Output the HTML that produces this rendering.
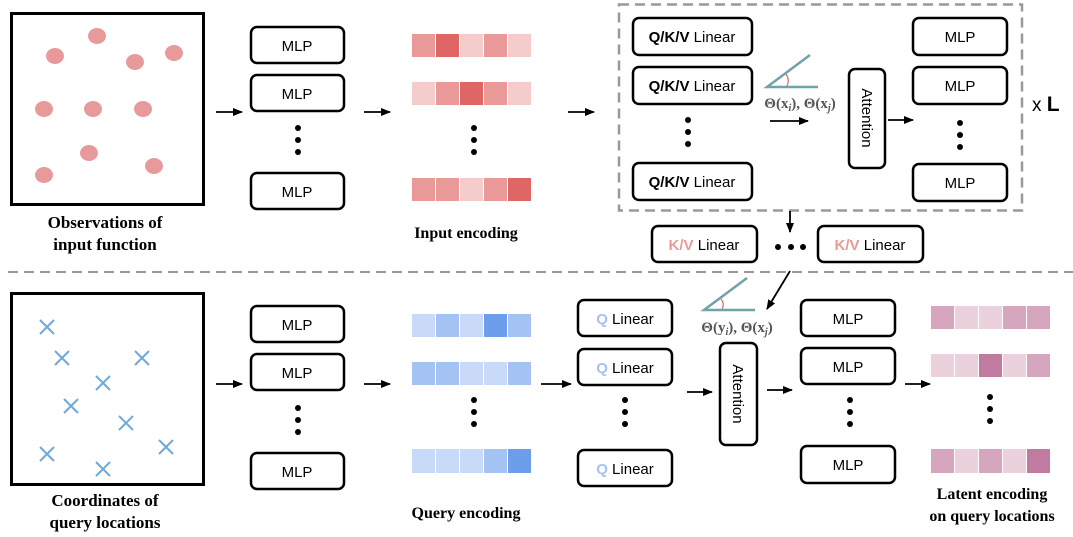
<!DOCTYPE html>
<html><head><meta charset="utf-8"><style>
html,body{margin:0;padding:0;background:#fff}
svg{display:block}
.b{fill:#fff;stroke:#000;stroke-width:2.5}
.t{font-family:"Liberation Sans",sans-serif;font-size:15px;fill:#000;text-anchor:middle}
.c{font-family:"Liberation Serif",serif;font-size:17px;font-weight:bold;fill:#000;text-anchor:middle}
.m{font-family:"Liberation Serif",serif;font-size:15px;font-weight:bold;fill:#555;text-anchor:middle}
.x{stroke:#6fa8dc;stroke-width:2}
.a{stroke:#000;stroke-width:1.8}
</style></head><body>
<svg width="1073" height="537" viewBox="0 0 1073 537">
<defs><marker id="ah" markerWidth="10" markerHeight="10" refX="9" refY="5" orient="auto" markerUnits="userSpaceOnUse"><path d="M0,1 L10,5 L0,9z" fill="#000"/></marker></defs>
<rect x="11.5" y="13.5" width="192" height="191" fill="#fff" stroke="#000" stroke-width="3"/>
<g fill="#e89a9a">
<ellipse cx="55" cy="56" rx="9" ry="8"/><ellipse cx="97" cy="36" rx="9" ry="8"/><ellipse cx="135" cy="62" rx="9" ry="8"/><ellipse cx="174" cy="53" rx="9" ry="8"/>
<ellipse cx="44" cy="109" rx="9" ry="8"/><ellipse cx="93" cy="109" rx="9" ry="8"/><ellipse cx="143" cy="109" rx="9" ry="8"/>
<ellipse cx="89" cy="153" rx="9" ry="8"/><ellipse cx="154" cy="166" rx="9" ry="8"/><ellipse cx="44" cy="175" rx="9" ry="8"/>
</g>
<text class="c" x="105" y="228">Observations of</text>
<text class="c" x="105" y="250">input function</text>
<rect x="11.5" y="293.5" width="192" height="191" fill="#fff" stroke="#000" stroke-width="3"/>
<g class="x">
<path d="M40,320 l14,14 m0,-14 l-14,14"/><path d="M55,351 l14,14 m0,-14 l-14,14"/><path d="M135,351 l14,14 m0,-14 l-14,14"/>
<path d="M96,376 l14,14 m0,-14 l-14,14"/><path d="M64,399 l14,14 m0,-14 l-14,14"/><path d="M119,416 l14,14 m0,-14 l-14,14"/>
<path d="M159,440 l14,14 m0,-14 l-14,14"/><path d="M40,447 l14,14 m0,-14 l-14,14"/><path d="M96,462 l14,14 m0,-14 l-14,14"/>
</g>
<text class="c" x="105" y="506">Coordinates of</text>
<text class="c" x="105" y="528">query locations</text>
<line class="a" x1="216" y1="112" x2="242" y2="112" marker-end="url(#ah)"/>
<line class="a" x1="216" y1="384" x2="242" y2="384" marker-end="url(#ah)"/>
<g>
<rect class="b" x="251" y="27" width="93" height="36" rx="6"/><text class="t" x="297" y="51">MLP</text>
<rect class="b" x="251" y="75" width="93" height="36" rx="6"/><text class="t" x="297" y="99">MLP</text>
<rect class="b" x="251" y="173" width="93" height="36" rx="6"/><text class="t" x="297" y="197">MLP</text>
<circle cx="298" cy="128" r="3"/><circle cx="298" cy="140" r="3"/><circle cx="298" cy="152" r="3"/>
<rect class="b" x="251" y="306" width="93" height="36" rx="6"/><text class="t" x="297" y="330">MLP</text>
<rect class="b" x="251" y="354" width="93" height="36" rx="6"/><text class="t" x="297" y="378">MLP</text>
<rect class="b" x="251" y="453" width="93" height="36" rx="6"/><text class="t" x="297" y="477">MLP</text>
<circle cx="298" cy="408" r="3"/><circle cx="298" cy="420" r="3"/><circle cx="298" cy="432" r="3"/>
</g>
<line class="a" x1="364" y1="112" x2="390" y2="112" marker-end="url(#ah)"/>
<line class="a" x1="364" y1="384" x2="390" y2="384" marker-end="url(#ah)"/>
<g>
<rect x="412" y="34" width="23" height="23" fill="#ea9999"/><rect x="436" y="34" width="23" height="23" fill="#e06666"/><rect x="460" y="34" width="23" height="23" fill="#f4cccc"/><rect x="484" y="34" width="23" height="23" fill="#ea9999"/><rect x="508" y="34" width="23" height="23" fill="#f4cccc"/>
<rect x="412" y="82" width="23" height="23" fill="#f4cccc"/><rect x="436" y="82" width="23" height="23" fill="#ea9999"/><rect x="460" y="82" width="23" height="23" fill="#e06666"/><rect x="484" y="82" width="23" height="23" fill="#ea9999"/><rect x="508" y="82" width="23" height="23" fill="#f4cccc"/>
<rect x="412" y="178" width="23" height="23" fill="#ea9999"/><rect x="436" y="178" width="23" height="23" fill="#ea9999"/><rect x="460" y="178" width="23" height="23" fill="#f4cccc"/><rect x="484" y="178" width="23" height="23" fill="#ea9999"/><rect x="508" y="178" width="23" height="23" fill="#e06666"/>
<circle cx="474" cy="128" r="3"/><circle cx="474" cy="140" r="3"/><circle cx="474" cy="152" r="3"/>
<rect x="412" y="314" width="23" height="23" fill="#c9daf8"/><rect x="436" y="314" width="23" height="23" fill="#a4c2f4"/><rect x="460" y="314" width="23" height="23" fill="#c9daf8"/><rect x="484" y="314" width="23" height="23" fill="#6d9eeb"/><rect x="508" y="314" width="23" height="23" fill="#a4c2f4"/>
<rect x="412" y="362" width="23" height="23" fill="#a4c2f4"/><rect x="436" y="362" width="23" height="23" fill="#a4c2f4"/><rect x="460" y="362" width="23" height="23" fill="#c9daf8"/><rect x="484" y="362" width="23" height="23" fill="#c9daf8"/><rect x="508" y="362" width="23" height="23" fill="#a4c2f4"/>
<rect x="412" y="449" width="23" height="24" fill="#c9daf8"/><rect x="436" y="449" width="23" height="24" fill="#c9daf8"/><rect x="460" y="449" width="23" height="24" fill="#c9daf8"/><rect x="484" y="449" width="23" height="24" fill="#a4c2f4"/><rect x="508" y="449" width="23" height="24" fill="#6d9eeb"/>
<circle cx="474" cy="400" r="3"/><circle cx="474" cy="412" r="3"/><circle cx="474" cy="424" r="3"/>
</g>
<text class="c" x="466" y="238" style="font-size:16px">Input encoding</text>
<text class="c" x="466" y="518" style="font-size:16px">Query encoding</text>
<line class="a" x1="568" y1="112" x2="594" y2="112" marker-end="url(#ah)"/>
<rect x="619" y="4.5" width="403" height="206" fill="none" stroke="#999" stroke-width="2.5" stroke-dasharray="10,6"/>
<g>
<rect class="b" x="633" y="18" width="119" height="37" rx="6"/><text class="t" x="692" y="42"><tspan font-weight="bold">Q/K/V</tspan> Linear</text>
<rect class="b" x="633" y="67" width="119" height="37" rx="6"/><text class="t" x="692" y="91"><tspan font-weight="bold">Q/K/V</tspan> Linear</text>
<rect class="b" x="633" y="163" width="119" height="37" rx="6"/><text class="t" x="692" y="187"><tspan font-weight="bold">Q/K/V</tspan> Linear</text>
<circle cx="688" cy="120" r="3"/><circle cx="688" cy="132" r="3"/><circle cx="688" cy="144" r="3"/>
</g>
<path d="M810,55 L767,87 L818,87" fill="none" stroke="#6fa3a8" stroke-width="2.5"/>
<path d="M786,74 Q790,80 787,86" fill="none" stroke="#e06666" stroke-width="1.2"/>
<text class="m" x="800" y="108">Θ(x<tspan font-size="10" font-style="italic" dy="3">i</tspan><tspan dy="-3">), Θ(x</tspan><tspan font-size="10" font-style="italic" dy="3">j</tspan><tspan dy="-3">)</tspan></text>
<line class="a" x1="770" y1="121" x2="808" y2="121" marker-end="url(#ah)"/>
<rect class="b" x="849" y="69" width="36" height="99" rx="6"/>
<text class="t" transform="translate(862,118) rotate(90)">Attention</text>
<line class="a" x1="888" y1="120" x2="913" y2="120" marker-end="url(#ah)"/>
<g>
<rect class="b" x="913" y="18" width="94" height="37" rx="6"/><text class="t" x="960" y="42">MLP</text>
<rect class="b" x="913" y="67" width="94" height="37" rx="6"/><text class="t" x="960" y="91">MLP</text>
<rect class="b" x="913" y="164" width="94" height="37" rx="6"/><text class="t" x="960" y="188">MLP</text>
<circle cx="960" cy="123" r="3"/><circle cx="960" cy="135" r="3"/><circle cx="960" cy="147" r="3"/>
</g>
<text x="1032" y="111" style="font-family:'Liberation Sans',sans-serif;font-size:19px">x <tspan font-weight="bold" font-size="21">L</tspan></text>
<line class="a" x1="790" y1="211" x2="790" y2="232" marker-end="url(#ah)"/>
<rect class="b" x="652" y="226" width="105" height="36" rx="6"/><text class="t" x="704" y="250"><tspan fill="#ea9999" font-weight="bold">K/V</tspan> Linear</text>
<rect class="b" x="818" y="226" width="105" height="36" rx="6"/><text class="t" x="870" y="250"><tspan fill="#ea9999" font-weight="bold">K/V</tspan> Linear</text>
<circle cx="778" cy="247" r="3"/><circle cx="791" cy="247" r="3"/><circle cx="803" cy="247" r="3"/>
<line x1="8" y1="272" x2="1073" y2="272" stroke="#999" stroke-width="2" stroke-dasharray="10,6"/>
<line class="a" x1="541" y1="384" x2="571" y2="384" marker-end="url(#ah)"/>
<g>
<rect class="b" x="578" y="300" width="94" height="36" rx="6"/><text class="t" x="625" y="324"><tspan fill="#a4c2f4" font-weight="bold">Q</tspan> Linear</text>
<rect class="b" x="578" y="349" width="94" height="36" rx="6"/><text class="t" x="625" y="373"><tspan fill="#a4c2f4" font-weight="bold">Q</tspan> Linear</text>
<rect class="b" x="578" y="450" width="94" height="36" rx="6"/><text class="t" x="625" y="474"><tspan fill="#a4c2f4" font-weight="bold">Q</tspan> Linear</text>
<circle cx="625" cy="400" r="3"/><circle cx="625" cy="412" r="3"/><circle cx="625" cy="424" r="3"/>
</g>
<path d="M747,278 L704,310 L755,310" fill="none" stroke="#6fa3a8" stroke-width="2.5"/>
<path d="M721,299 Q725,304 722,309" fill="none" stroke="#e06666" stroke-width="1.2"/>
<text class="m" x="737" y="332">Θ(y<tspan font-size="10" font-style="italic" dy="3">i</tspan><tspan dy="-3">), Θ(x</tspan><tspan font-size="10" font-style="italic" dy="3">j</tspan><tspan dy="-3">)</tspan></text>
<line class="a" x1="790" y1="271" x2="767" y2="309" marker-end="url(#ah)"/>
<line class="a" x1="687" y1="392" x2="712" y2="392" marker-end="url(#ah)"/>
<rect class="b" x="720" y="343" width="37" height="102" rx="6"/>
<text class="t" transform="translate(733,394) rotate(90)">Attention</text>
<line class="a" x1="767" y1="390" x2="792" y2="390" marker-end="url(#ah)"/>
<g>
<rect class="b" x="801" y="300" width="94" height="36" rx="6"/><text class="t" x="848" y="324">MLP</text>
<rect class="b" x="801" y="348" width="94" height="36" rx="6"/><text class="t" x="848" y="372">MLP</text>
<rect class="b" x="801" y="446" width="94" height="37" rx="6"/><text class="t" x="848" y="470">MLP</text>
<circle cx="850" cy="400" r="3"/><circle cx="850" cy="412" r="3"/><circle cx="850" cy="424" r="3"/>
</g>
<line class="a" x1="905" y1="384" x2="930" y2="384" marker-end="url(#ah)"/>
<g>
<rect x="931" y="306" width="23" height="23" fill="#d5a6bd"/><rect x="955" y="306" width="23" height="23" fill="#ead1dc"/><rect x="979" y="306" width="23" height="23" fill="#ead1dc"/><rect x="1003" y="306" width="23" height="23" fill="#d5a6bd"/><rect x="1027" y="306" width="23" height="23" fill="#d5a6bd"/>
<rect x="931" y="354" width="23" height="23" fill="#ead1dc"/><rect x="955" y="354" width="23" height="23" fill="#ead1dc"/><rect x="979" y="354" width="23" height="23" fill="#c27ba0"/><rect x="1003" y="354" width="23" height="23" fill="#ead1dc"/><rect x="1027" y="354" width="23" height="23" fill="#d5a6bd"/>
<rect x="931" y="449" width="23" height="24" fill="#d5a6bd"/><rect x="955" y="449" width="23" height="24" fill="#ead1dc"/><rect x="979" y="449" width="23" height="24" fill="#d5a6bd"/><rect x="1003" y="449" width="23" height="24" fill="#ead1dc"/><rect x="1027" y="449" width="23" height="24" fill="#c27ba0"/>
<circle cx="990" cy="397" r="3"/><circle cx="990" cy="409" r="3"/><circle cx="990" cy="421" r="3"/>
</g>
<text class="c" x="992" y="499" style="font-size:16px">Latent encoding</text>
<text class="c" x="992" y="521" style="font-size:16px">on query locations</text>
</svg>
</body></html>
